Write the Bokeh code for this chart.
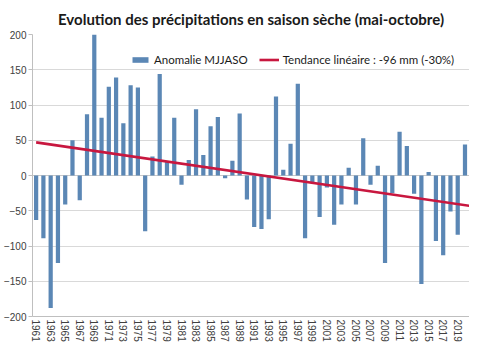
from bokeh.plotting import figure
from bokeh.models import Range1d, FixedTicker, Span, Legend, LegendItem
from bokeh.embed import file_html
from bokeh.resources import INLINE

years = list(range(1961, 2021))
anomalies = [
    -63, -89, -188, -124, -41, 50, -35, 87, 200, 82,
    126, 139, 74, 128, 125, -79, 27, 144, 20, 82,
    -13, 22, 94, 29, 70, 83, -4, 21, 88, -34,
    -73, -76, -62, 112, 8, 45, 130, -89, -10, -59,
    -17, -70, -41, 11, -41, 53, -13, 14, -124, -25,
    62, 42, -26, -154, 5, -93, -113, -51, -84, 44,
]
# linear trend line (start / end)
trend_years = [1961, 2021]
trend_values = [47, -43.5]
tick_years = list(range(1961, 2022, 2))
y_ticks = [-200, -150, -100, -50, 0, 50, 100, 150, 200]
title_text = "Evolution des précipitations en saison sèche (mai-octobre)"
bar_label = "Anomalie MJJASO"
trend_label = "Tendance linéaire : -96 mm (-30%)"

p = figure(width=469, height=344, output_backend="svg", toolbar_location=None,
           x_range=Range1d(1960.5, 2020.62), y_range=Range1d(-200, 200),
           title=title_text, min_border_left=2, min_border_right=0,
           min_border_top=4, min_border_bottom=0)
p.outline_line_color = None
p.title.align = "center"
p.title.text_font = "Lato"
p.title.text_font_style = "bold"
p.title.text_font_size = "15px"
p.title.text_color = "#1a1a1a"
p.title.standoff = 14

p.xgrid.grid_line_color = None
p.ygrid.grid_line_color = "#d9d9d9"
p.ygrid.ticker = FixedTicker(ticks=y_ticks)

zero = Span(location=0, dimension="width", line_color="#c8c8c8", line_width=1, level="underlay")
p.add_layout(zero)

bars = p.vbar(x=years, top=anomalies, bottom=0, width=0.58,
              fill_color="#5b87b5", line_color=None)
trend = p.line(x=trend_years, y=trend_values, line_color="#c8173f", line_width=2.6)

p.yaxis.ticker = FixedTicker(ticks=y_ticks)
p.yaxis.axis_line_color = "#bfbfbf"
p.yaxis.major_tick_line_color = "#bfbfbf"
p.yaxis.major_tick_out = 4
p.yaxis.major_tick_in = 0
p.yaxis.minor_tick_line_color = None
p.yaxis.major_label_text_font = "Liberation Sans"
p.yaxis.major_label_text_font_size = "10px"
p.yaxis.major_label_text_color = "#404040"
p.yaxis.major_label_standoff = 2

p.xaxis.ticker = FixedTicker(ticks=tick_years)
p.xaxis.axis_line_color = "#bfbfbf"
p.xaxis.major_tick_line_color = None
p.xaxis.major_tick_out = 0
p.xaxis.major_tick_in = 0
p.xaxis.minor_tick_line_color = None
p.xaxis.major_label_orientation = "vertical"
p.xaxis.major_label_text_font = "Liberation Sans"
p.xaxis.major_label_text_font_size = "10px"
p.xaxis.major_label_text_color = "#404040"
p.xaxis.major_label_standoff = 3

legend = Legend(items=[LegendItem(label=bar_label, renderers=[bars]),
                       LegendItem(label=trend_label, renderers=[trend])],
                orientation="horizontal", location=(98, 250),
                border_line_color=None, background_fill_alpha=0,
                label_text_font="Lato", label_text_font_size="11.5px",
                label_text_color="#1a1a1a",
                glyph_width=20, glyph_height=7, padding=2, spacing=11,
                label_standoff=4, margin=0)
p.add_layout(legend, "center")

open("out.html", "w").write(file_html(p, INLINE))
